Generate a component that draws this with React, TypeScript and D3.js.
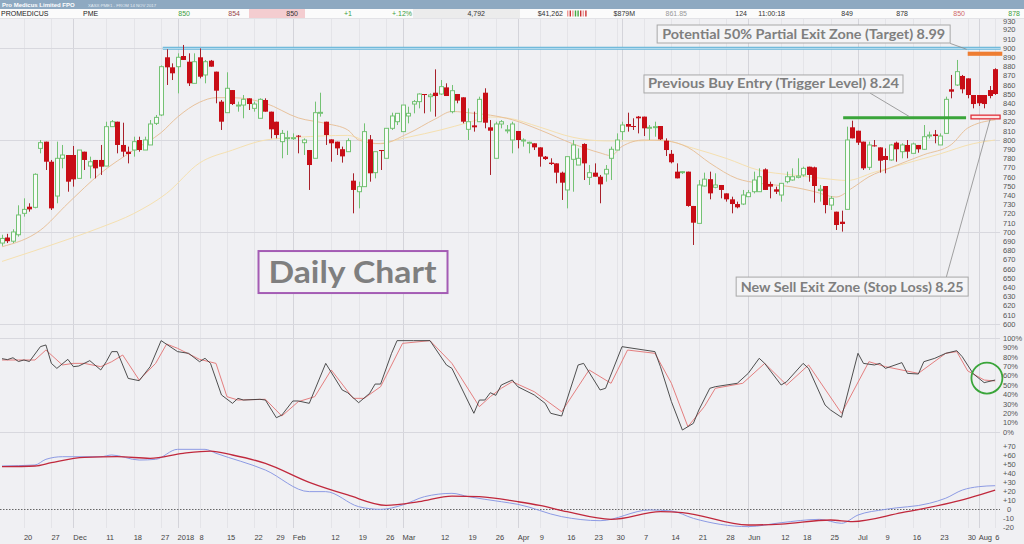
import React from "react";
import * as d3 from "d3";

// daily candles from 14 Nov 2017, [open, high, low, close]
const candles: [number, number, number, number][] = [
  [688, 697, 685, 693], [694, 698, 688, 690], [690, 703, 688, 700], [697, 729, 695, 718.5], [720.3, 736.6, 716.7, 724.6],
  [727.5, 731.2, 722.1, 724.6], [726.8, 763.8, 725.7, 762.7], [790.9, 800, 785.5, 797.1], [798.2, 798.2, 767.4, 776.4], [776.4, 778.3, 723.9, 725.7],
  [739.1, 798.2, 731.2, 780.1], [780.1, 794.6, 769.2, 783.7], [783.7, 783.7, 743.8, 754.7], [783.7, 793.5, 749.3, 757.2], [758.3, 789.1, 758.3, 789.1],
  [787.3, 787.3, 767.4, 778.3], [771.7, 781.9, 758.3, 776.4], [778.3, 778.3, 758.3, 769.2], [778.3, 794.6, 762, 771], [771.7, 819.9, 771.7, 814.5],
  [814.5, 821.7, 814.5, 819.9], [819.9, 819.9, 785.5, 794.6], [794.6, 818.8, 781.9, 787.3], [787.3, 792.8, 774.6, 784.8], [789.1, 803.6, 781.9, 798.2],
  [800, 803.6, 787.3, 789.1], [789.1, 803.6, 789.1, 800], [794.6, 821.7, 794.6, 817.4], [818.1, 827.2, 816.3, 824.6], [827.2, 881, 826, 879.7],
  [889.9, 898.6, 859.8, 879], [879, 883.3, 865.2, 872.5], [879.7, 894.2, 850.7, 889.9], [891.3, 903.3, 887, 887], [885.1, 894.2, 858.7, 861.6],
  [861.6, 894.2, 861.6, 885.1], [889.9, 899.6, 867, 868.8], [870.7, 887, 861.6, 885.1], [886.2, 887, 879.7, 879.7], [874.3, 874.3, 839.9, 853.6],
  [841.7, 843.5, 810.9, 819.9], [829.7, 873.6, 829.7, 856.2], [854.3, 854.3, 838, 839.1], [837, 841.7, 830.8, 838], [838, 848.9, 823.6, 844.2],
  [845.3, 845.3, 832.6, 839.1], [834.4, 841.7, 830.8, 839.1], [823.6, 845.3, 823.6, 844.2], [843.5, 845.3, 830.8, 830.8], [830.8, 830.8, 801.8, 811.6],
  [819.9, 819.9, 801.8, 805.4], [798.2, 810.9, 780.1, 807.2], [801.4, 810.1, 783.7, 802.5], [802, 807.2, 800, 802.5], [804.7, 805.4, 785.5, 803.6],
  [797.1, 801.8, 783.7, 800], [789.1, 789.1, 745.7, 772.8], [780.1, 841.7, 780.1, 829.7], [829, 851.4, 825.4, 830.1], [819.9, 819.9, 794.6, 805.4],
  [800.7, 800.7, 776.4, 796.4], [798.2, 798.2, 783.7, 790.9], [790, 792.8, 775.4, 782.2], [787.3, 801.8, 787.3, 799.3], [755.8, 763.8, 720.3, 745.7],
  [743.8, 754.7, 725.7, 749.3], [749.3, 818.1, 749.3, 809.1], [800.7, 805.4, 754.7, 763.8], [764.5, 787.3, 758.3, 787.3], [789.1, 789.1, 767.4, 788],
  [780.1, 812.7, 780.1, 812.7], [812.7, 829.7, 810.9, 826.1], [819.9, 829, 816.3, 829], [809.1, 838, 809.1, 838], [826.1, 836.2, 818.1, 829],
  [839.1, 843.5, 829, 841.7], [841.7, 850.7, 834.4, 850], [850, 850, 829, 848.9], [847.1, 850.7, 830.8, 848.9], [851.4, 876.8, 825.4, 847.8],
  [850, 865.2, 848.9, 858], [857.2, 861.6, 847.8, 847.8], [830.8, 859.8, 829, 853.6], [850, 850, 839.9, 842.8], [846.4, 846.4, 818.1, 819.9],
  [811.6, 834.4, 800, 819.9], [815.9, 830.8, 809.1, 813.8], [819.9, 847.1, 819.9, 844.2], [851.4, 856.2, 812.7, 818.8], [813.8, 821.7, 762, 810.1],
  [780.1, 819.9, 780.1, 817.4], [817.4, 821.7, 812.7, 819.9], [810.5, 816.3, 807.2, 811], [800, 819.9, 785.5, 817.4], [809.8, 809.8, 790.9, 800],
  [798.9, 801.8, 792.8, 800], [797, 798.2, 785.5, 797.5], [796.4, 796.4, 789.1, 792], [792, 792, 771, 781.9], [781.9, 782.6, 778.3, 779.3],
  [775.4, 780.1, 772.8, 773.9], [774.6, 774.6, 752.9, 764.5], [764.5, 765.6, 734.8, 753.6], [745.7, 781.9, 725.7, 781.9], [779, 800, 743.8, 794.6],
  [772.8, 790.9, 772.8, 780.1], [795.7, 796.4, 756.5, 774.6], [759.4, 772.8, 751.1, 764.5], [764.5, 774.6, 760.1, 760.1], [760.1, 762, 731.2, 751.8],
  [763.1, 772.8, 754.7, 768.1], [780.1, 792.8, 756.5, 789.9], [789.1, 807.2, 789.1, 800], [809.1, 819.9, 800, 816.3], [817.4, 829.7, 809.1, 814.5],
  [815.2, 823.6, 810.9, 814.5], [825.4, 826.1, 807.2, 823.6], [825.4, 825.4, 804.3, 812.7], [813.4, 816.3, 800, 813.8], [814, 819.9, 803.6, 814.5],
  [815.2, 815.2, 800, 800.7], [799.3, 801.8, 782.6, 789.1], [785, 789.1, 774.6, 775.8], [765.6, 774.6, 758.3, 758.3], [764.5, 766.3, 763.1, 765.6],
  [765.6, 765.6, 727.5, 728.3], [728.3, 728.3, 685.9, 710.1], [709.4, 756.5, 709.4, 751.1], [750, 764.5, 749.3, 757.4], [757.4, 765.6, 735.5, 742],
  [748.6, 763.8, 747.5, 751.1], [751.1, 751.1, 736.6, 745.7], [742, 742, 733, 735.5], [735.5, 738.4, 720.3, 730.4], [730.4, 733, 725.7, 726.8],
  [730.4, 745.7, 729.3, 740.2], [738.4, 745.7, 738.4, 742.7], [743.8, 765.6, 742, 756.5], [743.8, 769.2, 743.8, 760.1], [768.1, 769.2, 745.7, 745.7],
  [752.2, 754.7, 736.6, 749.3], [746.4, 749.3, 741.3, 743.8], [740.2, 752.9, 733, 752.9], [754.7, 765.6, 752.9, 760.1], [756.5, 769.2, 755.8, 760.1],
  [759.4, 780.1, 758.3, 760.8], [762, 771, 760.1, 769.2], [771, 771, 754.7, 762], [770.3, 771, 731.9, 750], [745, 751.1, 733, 746.4],
  [750, 750, 720.3, 729.3], [729.3, 739.1, 723.9, 736.6], [722.1, 722.1, 702.2, 707.6], [711.2, 723.2, 700.4, 708.7], [724.6, 814.5, 724.6, 800],
  [813.8, 821, 801.8, 801.8], [810.1, 810.1, 794.6, 797.1], [798.2, 798.2, 767.4, 769.2], [770.3, 798.2, 767.4, 794.6], [794.2, 800, 792.8, 793.5],
  [792, 792, 764.5, 777.5], [782.6, 790.9, 763.8, 778.3], [778.3, 795.7, 777.5, 794.6], [797.1, 798.2, 776.4, 789.9], [787.3, 796.4, 780.1, 794.6],
  [794.6, 800, 780.1, 787.3], [785.5, 797.1, 785.5, 795.7], [794.6, 794.6, 786.2, 789.9], [789.9, 816.3, 789.1, 803.6], [804.7, 809.1, 801.8, 805.4],
  [806.1, 810.9, 796.4, 804.3], [794.6, 807.2, 794.6, 804.3], [807.2, 847.1, 807.2, 844.2], [855.1, 870.7, 845.3, 852.5], [859.8, 887, 858.7, 874.3],
  [869.6, 870.7, 850.7, 855.1], [867, 867, 845.3, 848.9], [848.9, 848.9, 834.4, 839.1], [848.9, 848.9, 837, 839.9], [848.9, 848.9, 834.4, 839.1],
  [854.3, 858.7, 845.3, 847.8], [877, 878, 849, 850],
];

// moving averages, [candle index, price]
const maFast: [number, number][] = [
  [0, 684], [7, 702], [12, 731], [18, 764], [24, 789], [29, 808], [32, 825], [36, 841], [39, 846], [42, 846], [48, 840],
  [54, 824], [59, 818], [63, 811], [65, 800], [69, 796], [74, 807], [79, 823], [82, 831], [86, 829], [89, 827], [93, 822],
  [98, 811], [104, 796], [109, 786], [111, 783], [113, 793], [117, 800], [121, 799], [125, 792], [129, 775], [134, 758],
  [138, 753], [144, 749], [148, 744], [152, 738], [155, 748], [158, 760], [162, 770], [168, 784], [173, 795], [176, 813], [181, 822],
];
const maSlow: [number, number][] = [
  [0, 668], [12, 692], [18, 705], [24, 720], [30, 742], [36, 775], [42, 789], [48, 800], [54, 803], [63, 805], [68, 796],
  [74, 803], [80, 811], [85, 819], [89, 825], [92, 824], [98, 814], [104, 803], [110, 799], [116, 799], [120, 800], [126, 791],
  [132, 780], [138, 767], [144, 762], [150, 758], [154, 756], [159, 765], [165, 775], [171, 785], [177, 796], [181, 800],
];

// slow stochastic %K and %D
const stochK: [number, number][] = [
  [0, 78], [1, 77], [2, 79], [3, 75], [4, 76.6], [5, 75], [7, 90.8], [8, 92.6], [9, 73], [10, 67.7], [12, 77.3], [13, 69.5],
  [14, 70.2], [16, 75.9], [18, 66], [19, 74.8], [20, 85.5], [21, 85.5], [23, 57], [25, 54.6], [27, 69.5], [29, 97.2], [32, 85.5],
  [34, 83.7], [36, 74.8], [37, 78.4], [38, 73], [40, 39.4], [42, 30.5], [43, 35.8], [44, 34], [47, 34.8], [48, 34], [50, 15.2],
  [51, 18], [53, 33], [54, 33], [56, 30.5], [59, 73], [62, 44.7], [63, 41.8], [65, 31.2], [67, 41.1], [68, 51], [69, 51],
  [71, 83.7], [72, 97.2], [75, 97.2], [78, 97.2], [81, 71.3], [82, 67.7], [86, 19.9], [87, 34], [88, 34], [89, 41.8], [90, 39],
  [91, 50], [93, 55.3], [94, 48.2], [97, 39.4], [99, 30.5], [100, 19.9], [102, 17], [105, 71.3], [106, 73], [109, 44.7],
  [110, 46.5], [113, 90.8], [115, 89], [119, 85.5], [120, 69.5], [122, 32.3], [124, 2.1], [126, 9.2], [127, 23.4], [129, 46.5],
  [130, 48.2], [134, 51.8], [136, 62.4], [138, 78.4], [139, 73], [142, 50], [143, 53.5], [146, 73], [147, 67.7], [150, 28.7],
  [151, 23.4], [153, 15.6], [156, 83.7], [157, 73], [159, 71.3], [160, 73], [161, 67.7], [164, 73.8], [165, 62.4], [167, 61.7],
  [168, 74.8], [170, 78.4], [172, 83.7], [174, 86.5], [175, 80.1], [177, 62], [179, 52.5], [181, 55.3],
];
const stochD: [number, number][] = [
  [0, 76.6], [3, 76.6], [6, 76.6], [8, 87.2], [11, 71.3], [13, 73], [15, 73], [18, 69.5], [20, 74.8], [22, 81.9], [25, 55.3],
  [28, 73], [30, 93.6], [32, 89], [36, 77.3], [39, 73], [41, 37.6], [43, 34], [48, 34.8], [51, 17], [54, 32.3], [57, 37.6],
  [60, 66], [64, 35.8], [66, 35.8], [69, 48.2], [73, 94.3], [78, 97.2], [82, 73], [87, 27], [89, 37.6], [91, 46.5], [93, 53.5],
  [97, 42.9], [102, 21.6], [107, 66], [111, 51.8], [114, 87.2], [119, 83.7], [122, 51.8], [125, 5.7], [128, 27], [130, 46.5],
  [135, 51.8], [139, 73], [143, 50], [147, 71.3], [153, 19.9], [158, 74.8], [161, 69.5], [167, 62.4], [172, 83.7], [174, 85.5],
  [176, 65], [179, 55.3], [181, 54.3],
];

// MACD line and signal
const macdLine: [number, number][] = [
  [0, 47.8], [6, 48.9], [8, 55.2], [11, 58.1], [18, 58.1], [20, 60], [25, 54.4], [28, 55.2], [32, 66.3], [37, 66.3], [39, 61.9],
  [48, 43.3], [56, 19.3], [59, 19.3], [65, 2.6], [69, -0.4], [73, 4.4], [77, 13.7], [82, 17.4], [85, 13.7], [91, 8.1], [94, 5.2],
  [102, -8.5], [109, -13], [118, -1.1], [122, -2.2], [126, -10.4], [136, -19.6], [142, -15.2], [149, -11.5], [153, -15.9],
  [156, -6.7], [161, -0.4], [169, 6.3], [172, 12], [175, 21], [178, 24.8], [181, 25.9],
];
const macdSignal: [number, number][] = [
  [0, 47], [6, 47.8], [9, 51.5], [15, 57.4], [21, 58.1], [27, 56.3], [33, 61.9], [38, 64.4], [42, 60], [48, 50.7], [56, 29.6],
  [63, 15.6], [70, 4.1], [76, 8.1], [82, 14.4], [87, 13.7], [94, 8.1], [98, 4], [103, -3], [111, -11.5], [120, -3], [124, -4],
  [136, -17.8], [142, -16.7], [151, -12.2], [155, -14], [164, -4], [173, 7], [181, 21],
];

// bottom axis: [candle index, label]; month starts get a stronger grid line
const xTicks: [number, string][] = [
  [4, "20"], [9, "27"], [13, "Dec"], [19, "11"], [24, "18"], [29, "27"], [32, "2018"], [36, "8"], [41, "15"], [46, "22"],
  [50, "29"], [53, "Feb"], [60, "12"], [65, "19"], [70, "26"], [73, "Mar"], [80, "12"], [85, "19"], [90, "26"], [94, "Apr"],
  [98, "9"], [103, "16"], [108, "23"], [112, "30"], [117, "7"], [122, "14"], [127, "21"], [132, "28"], [136, "Jun"], [142, "12"],
  [146, "18"], [151, "25"], [156, "Jul"], [161, "9"], [166, "16"], [171, "23"], [176, "30"], [178, "Aug"], [181, "6"],
];
const monthStarts = [13, 32, 53, 73, 94, 113, 136, 156, 178];

const priceTicks = d3.range(600, 931, 10);
const stochTicks = d3.range(0, 101, 10);
const macdTicks = d3.range(-20, 71, 10);

const headerCells: { t: string; x: number; c: string; a: "start" | "end" }[] = [
  { t: "PROMEDICUS", x: 1, c: "#222", a: "start" },
  { t: "PME", x: 83, c: "#222", a: "start" },
  { t: "850", x: 190, c: "#3f9f3f", a: "end" },
  { t: "854", x: 240, c: "#9a4a4a", a: "end" },
  { t: "850", x: 298, c: "#333", a: "end" },
  { t: "+1", x: 352, c: "#3f9f3f", a: "end" },
  { t: "+.12%", x: 412, c: "#3f9f3f", a: "end" },
  { t: "4,792", x: 485, c: "#333", a: "end" },
  { t: "$41,262", x: 563, c: "#333", a: "end" },
  { t: "$879M", x: 635, c: "#333", a: "end" },
  { t: "861.85", x: 687, c: "#999", a: "end" },
  { t: "124", x: 747, c: "#333", a: "end" },
  { t: "11:00:18", x: 785, c: "#333", a: "end" },
  { t: "849", x: 853, c: "#333", a: "end" },
  { t: "878", x: 908, c: "#333", a: "end" },
  { t: "850", x: 965, c: "#d06a6a", a: "end" },
  { t: "878", x: 1020, c: "#3f9f3f", a: "end" },
];
const tradeBars = ["#e99", "#c33", "#e99", "#4a4", "#4a4", "#c33", "#e99", "#c33"];

// callouts anchored at [candle index, price] of their top-left corner
const callouts = [
  { text: "Potential 50% Partial Exit Zone (Target) 8.99", i: 119.4, p: 925, w: 293, h: 18, tw: 283, fs: 14 },
  { text: "Previous Buy Entry (Trigger Level) 8.24", i: 117, p: 870.7, w: 259, h: 18, tw: 251, fs: 14 },
  { text: "New Sell Exit Zone (Stop Loss) 8.25", i: 133.8, p: 651, w: 232, h: 19, tw: 223, fs: 14 },
];
const connectors: [number, number, number, number][] = [
  [172.8, 905, 175.8, 898.6],
  [158.2, 851, 165.5, 825],
  [172.1, 651, 180.1, 823],
];

export default function App() {
  const n = candles.length;
  const x = d3.scaleLinear().domain([0, n - 1]).range([2, 2 + (n - 1) * 5.487]);
  const yP = d3.scaleLinear().domain([600, 900]).range([324, 48]);
  const yS = d3.scaleLinear().domain([0, 100]).range([432, 338]);
  const yM = d3.scaleLinear().domain([-20, 70]).range([527, 446]);

  const priceLine = d3.line<[number, number]>().x(d => x(d[0])).y(d => yP(d[1])).curve(d3.curveMonotoneX);
  const stochLine = d3.line<[number, number]>().x(d => x(d[0])).y(d => yS(d[1]));
  const macdGen = d3.line<[number, number]>().x(d => x(d[0])).y(d => yM(d[1])).curve(d3.curveMonotoneX);

  const axisFont = "'Liberation Sans', Arial, sans-serif";
  const noteFont = "Lato, 'Open Sans', sans-serif";

  return (
    <svg width={1024} height={544} style={{ position: "absolute", left: 0, top: 0, background: "#f0f0f3" }}>
      <rect width={1024} height={544} fill="#f0f0f3" />

      {/* grid */}
      {xTicks.map(([i]) => (
        <line key={"w" + i} x1={Math.round(x(i)) + 0.5} x2={Math.round(x(i)) + 0.5} y1={18} y2={528} stroke="#e4e4e8" />
      ))}
      {monthStarts.map(i => (
        <line key={"m" + i} x1={Math.round(x(i)) + 0.5} x2={Math.round(x(i)) + 0.5} y1={18} y2={528} stroke="#d4d4da" />
      ))}
      {[600, 700, 800, 900].map(v => (
        <line key={"h" + v} x1={0} x2={1000} y1={Math.round(yP(v)) + 0.5} y2={Math.round(yP(v)) + 0.5} stroke="#d8d8de" />
      ))}
      {[0, 100].map(v => (
        <line key={"s" + v} x1={0} x2={1000} y1={Math.round(yS(v)) + 0.5} y2={Math.round(yS(v)) + 0.5} stroke="#d8d8de" />
      ))}
      <line x1={0} x2={1000} y1={Math.round(yM(0)) + 0.5} y2={Math.round(yM(0)) + 0.5} stroke="#666" strokeDasharray="1.5,1.5" />

      {/* moving averages */}
      <path d={priceLine(maSlow) || ""} fill="none" stroke="#f5e0b0" strokeWidth={1} />
      <path d={priceLine(maFast) || ""} fill="none" stroke="#e8c29c" strokeWidth={1} />

      {/* target line */}
      <line x1={x(29.3)} x2={x(182)} y1={yP(899.6)} y2={yP(899.6)} stroke="#66b4d8" strokeWidth={3} />
      <line x1={x(29.3)} x2={x(182)} y1={yP(899.6)} y2={yP(899.6)} stroke="#d4ecf6" strokeWidth={0.8} />

      {/* candles */}
      {candles.map(([o, h, l, c], i) => {
        const up = c >= o;
        const cx = Math.round(x(i)) + 0.5;
        const top = yP(Math.max(o, c));
        const bh = Math.max(1, yP(Math.min(o, c)) - top);
        return (
          <g key={i}>
            <line x1={cx} x2={cx} y1={yP(h)} y2={yP(l)} stroke={up ? "#74c274" : "#a8202a"} strokeWidth={1} />
            {up ? (
              <rect x={cx - 2} y={top} width={4} height={bh} fill="#f8fbf8" stroke="#74c274" strokeWidth={1} />
            ) : (
              <rect x={cx - 2.5} y={top} width={5} height={bh} fill="#c80d16" />
            )}
          </g>
        );
      })}

      {/* level markers */}
      <rect x={x(176)} y={yP(896)} width={x(182.3) - x(176)} height={yP(891.5) - yP(896)} fill="#ee7d32" />
      <line x1={x(153.3)} x2={x(175.7)} y1={yP(824.2)} y2={yP(824.2)} stroke="#3aa53a" strokeWidth={3} />
      <rect x={x(176.6)} y={yP(827)} width={x(181.9) - x(176.6)} height={yP(823) - yP(827)} fill="#fde6e6" stroke="#e0303a" strokeWidth={1.3} />

      {/* callouts */}
      {connectors.map(([i1, p1, i2, p2], k) => (
        <line key={"c" + k} x1={x(i1)} y1={yP(p1)} x2={x(i2)} y2={yP(p2)} stroke="#8a8a8a" strokeWidth={0.8} />
      ))}
      {callouts.map(c => (
        <g key={c.text}>
          <rect x={x(c.i)} y={yP(c.p)} width={c.w} height={c.h} fill="#f4f4f6" stroke="#a8a8a8" strokeWidth={1} />
          <text x={x(c.i) + (c.w - c.tw) / 2} y={yP(c.p) + c.h - 4.5} fontFamily={noteFont} fontWeight="bold" fontSize={c.fs}
            fill="#7f7f7f" textLength={c.tw} lengthAdjust="spacingAndGlyphs">{c.text}</text>
        </g>
      ))}
      <rect x={x(46.75)} y={yP(679.3)} width={189} height={42} fill="#f2f2f4" stroke="#a45cb4" strokeWidth={2} />
      <text x={x(46.75) + 10} y={yP(679.3) + 32} fontFamily={noteFont} fontWeight="bold" fontSize={31} fill="#7f7f7f"
        textLength={168} lengthAdjust="spacingAndGlyphs">Daily Chart</text>

      {/* stochastic */}
      <path d={stochLine(stochD) || ""} fill="none" stroke="#e27272" strokeWidth={0.9} />
      <path d={stochLine(stochK) || ""} fill="none" stroke="#3c3c3c" strokeWidth={0.9} />
      <circle cx={x(179.5)} cy={yS(57.4)} r={15.5} fill="none" stroke="#3aa53a" strokeWidth={1.8} />

      {/* MACD */}
      <path d={macdGen(macdLine) || ""} fill="none" stroke="#8d9be4" strokeWidth={1} />
      <path d={macdGen(macdSignal) || ""} fill="none" stroke="#c0283c" strokeWidth={1.3} />

      {/* right axis */}
      <g fontFamily={axisFont} fontSize={7.5} fill="#555">
        {priceTicks.map(v => (
          <text key={"p" + v} x={1003} y={yP(v) + (v === 930 ? 3.4 : 2.7)}>{v}</text>
        ))}
        {stochTicks.map(v => (
          <text key={"q" + v} x={1003} y={yS(v) + 2.7}>{v + "%"}</text>
        ))}
        {macdTicks.map(v => (
          <text key={"r" + v} x={v === 0 ? 1007 : 1003} y={yM(v) + 2.7}>{v > 0 ? "+" + v : String(v)}</text>
        ))}
      </g>

      {/* bottom axis */}
      <g fontFamily={axisFont} fontSize={7.5} fill="#444">
        {xTicks.map(([i, t]) => (
          <text key={"x" + i} x={x(i)} y={540}>{t}</text>
        ))}
      </g>

      {/* header */}
      <rect x={0} y={0} width={1024} height={9} fill="#8ea9c1" />
      <text x={2} y={7} fontFamily={axisFont} fontWeight="bold" fontSize={6} fill="#fff">Pro Medicus Limited FPO</text>
      <text x={88} y={6.8} fontFamily={axisFont} fontSize={4.3} fill="#e4ecf3">XASX:PME1 - FROM 14 NOV 2017</text>
      <rect x={0} y={9} width={1024} height={9} fill="#fbfbfb" />
      <rect x={249} y={9} width={56} height={9} fill="#f4cdd0" />
      <rect x={413} y={9} width={107} height={9} fill="#ececec" />
      <line x1={0} x2={1024} y1={18.5} y2={18.5} stroke="#e2e2e6" />
      {tradeBars.map((c, k) => (
        <rect key={"tb" + k} x={567 + k * 2.6} y={10.5} width={1.4} height={6} fill={c} />
      ))}
      <g fontFamily={axisFont} fontSize={7}>
        {headerCells.map((h, k) => (
          <text key={"hc" + k} x={h.x} y={15.6} fill={h.c} textAnchor={h.a}>{h.t}</text>
        ))}
      </g>
    </svg>
  );
}
